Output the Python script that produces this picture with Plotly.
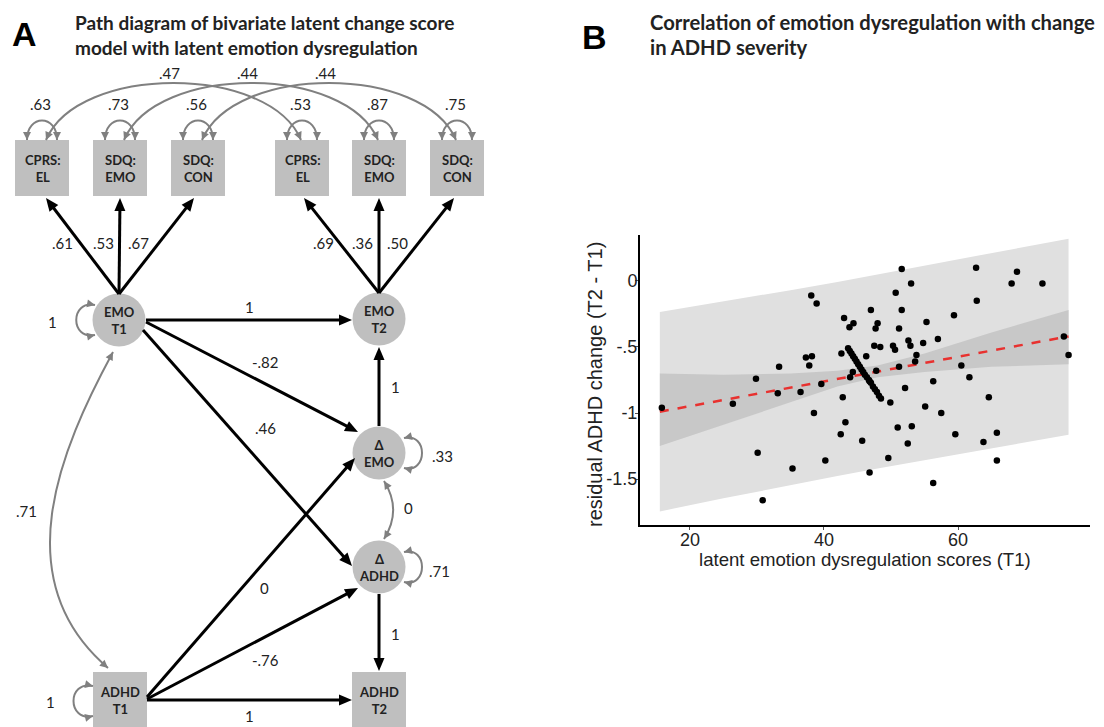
import plotly.graph_objects as go

# ---------------- Panel B data ----------------
emo_x = [15.8, 26.4, 29.85, 30.1, 30.85, 33.3, 33.1, 35.3, 36.5, 37.3, 38.2, 37.8, 38.1, 38.9,
         38.5, 39.6, 40.2, 42.6, 43.0, 43.8, 44.4, 42.8, 43.2, 42.5, 45.7, 43.9, 44.3, 46.3,
         46.8, 46.8, 47.0,
         51.6, 53.0, 50.7, 51.6, 48.0, 47.7, 51.2, 55.3, 59.4, 62.7, 62.8, 68.8, 68.0, 72.6,
         75.8, 76.5, 52.6, 52.9, 47.5, 48.4, 50.3, 50.6, 54.8, 57.0, 53.8, 53.6, 51.2, 47.8,
         60.5, 61.7, 56.3, 52.1, 49.9, 55.1, 57.5, 64.6, 51.0, 53.1, 52.5, 59.6, 63.8, 65.8,
         49.6, 65.8, 56.3]
adhd_y = [-0.96, -0.93, -0.74, -1.30, -1.66, -0.65, -0.85, -1.42, -0.84, -0.58, -0.57, -0.64, -0.11, -0.17,
          -1.00, -0.78, -1.36, -0.55, -0.28, -0.35, -0.32, -0.88, -1.07, -1.16, -1.21, -0.73, -0.69, -0.57,
          -0.76, -1.45, -0.22,
          0.09, -0.02, -0.09, -0.22, -0.32, -0.36, -0.36, -0.31, -0.26, 0.10, -0.15, 0.07, -0.02, -0.02,
          -0.42, -0.56, -0.45, -0.49, -0.49, -0.50, -0.49, -0.52, -0.47, -0.44, -0.56, -0.61, -0.65, -0.68,
          -0.64, -0.73, -0.76, -0.81, -0.92, -0.95, -1.00, -0.88, -1.11, -1.10, -1.23, -1.16, -1.22, -1.15,
          -1.34, -1.36, -1.53]
# tight cluster of observations forming a short diagonal streak
dense_x = [43.6, 43.85, 44.1, 44.35, 44.6, 44.85, 45.1, 45.35, 45.6, 45.85, 46.1, 46.4, 46.7, 47.0,
           47.3, 47.6, 47.9, 48.2, 48.5]
dense_y = [-0.51, -0.53, -0.55, -0.57, -0.59, -0.61, -0.63, -0.65, -0.67, -0.69, -0.71, -0.73, -0.75,
           -0.77, -0.80, -0.82, -0.84, -0.87, -0.89]

fit_x = [15.5, 76.5]
fit_y = [-0.99, -0.42]
band_x = [15.5, 25, 35, 42, 48, 55, 65, 76.5]
ci_hi = [-0.70, -0.71, -0.70, -0.68, -0.64, -0.55, -0.39, -0.22]
ci_lo = [-1.25, -1.09, -0.92, -0.80, -0.73, -0.69, -0.65, -0.63]
pi_hi = [-0.235, -0.156, -0.070, -0.007, 0.049, 0.115, 0.213, 0.320]
pi_lo = [-1.745, -1.646, -1.546, -1.477, -1.421, -1.357, -1.267, -1.165]

x_ticks = [20, 40, 60]
y_ticks = [0, -0.5, -1, -1.5]
y_ticktext = ["0", "-.5", "-1", "-1.5"]

# ---------------- Panel A content ----------------
indicator_labels = ["CPRS:<br>EL", "SDQ:<br>EMO", "SDQ:<br>CON"]
loadings_t1 = [".61", ".53", ".67"]
loadings_t2 = [".69", ".36", ".50"]
resid_t1 = [".63", ".73", ".56"]
resid_t2 = [".53", ".87", ".75"]
resid_cov = [".47", ".44", ".44"]
path_coef = {"emo_auto": "1", "emo_prop": "-.82", "emo_to_dadhd": ".46", "dEMO_to_emo2": "1",
             "adhd_to_demo": "0", "adhd_prop": "-.76", "adhd_auto": "1", "dADHD_to_adhd2": "1",
             "cov_t1": ".71", "cov_delta": "0", "var_demo": ".33", "var_dadhd": ".71",
             "var_emo1": "1", "var_adhd1": "1"}

# page coordinates (the page body adds an 8px offset)
W, H = 1104, 727
OFF = 8
FW, FH = W - OFF, H - OFF

BLACK = "#000000"
GRAY = "#808080"
NODE = "#bfbfbf"
TXT = "#222222"
LABF = "Lato, 'Open Sans', sans-serif"

shapes = []
annotations = []


def S(d):
    d.update(xref="x2", yref="y2")
    shapes.append(d)


def head(tx, ty, ux, uy, L, Wd, color):
    bx, by = tx - ux * L, ty - uy * L
    nx, ny = -uy, ux
    S(dict(type="path",
           path=f"M {tx:.2f},{ty:.2f} L {bx + nx * Wd:.2f},{by + ny * Wd:.2f} L {bx - nx * Wd:.2f},{by - ny * Wd:.2f} Z",
           fillcolor=color, line=dict(width=0), layer="above"))


def arrow(x0, y0, x1, y1, color=BLACK, width=3, L=13, Wd=5.5):
    dx, dy = x1 - x0, y1 - y0
    d = (dx * dx + dy * dy) ** 0.5
    ux, uy = dx / d, dy / d
    S(dict(type="line", x0=x0, y0=y0, x1=x1 - ux * (L - 2), y1=y1 - uy * (L - 2),
           line=dict(color=color, width=width), layer="above"))
    head(x1, y1, ux, uy, L, Wd, color)


def unit(ax, ay, bx, by):
    dx, dy = bx - ax, by - ay
    d = (dx * dx + dy * dy) ** 0.5
    return dx / d, dy / d


def curve(p0, c1, c2, p3, color=GRAY, width=2, L=8, Wd=4, both=True):
    S(dict(type="path",
           path=f"M {p0[0]},{p0[1]} C {c1[0]},{c1[1]} {c2[0]},{c2[1]} {p3[0]},{p3[1]}",
           line=dict(color=color, width=width), layer="above"))
    ux, uy = unit(c2[0], c2[1], p3[0], p3[1])
    head(p3[0], p3[1], ux, uy, L, Wd, color)
    if both:
        ux, uy = unit(c1[0], c1[1], p0[0], p0[1])
        head(p0[0], p0[1], ux, uy, L, Wd, color)


def text(x, y, s, size=15, bold=False, color=TXT, family=LABF, xanchor="center"):
    annotations.append(dict(x=x, y=y, xref="x2", yref="y2", text=(f"<b>{s}</b>" if bold else s),
                            showarrow=False, xanchor=xanchor, yanchor="middle",
                            font=dict(family=family, size=size, color=color)))


def box(cx, cy, label, w=54, h=56):
    S(dict(type="rect", x0=cx - w / 2, x1=cx + w / 2, y0=cy - h / 2, y1=cy + h / 2,
           fillcolor=NODE, line=dict(width=0), layer="below"))
    text(cx, cy, label, size=13, bold=True)


def circle(cx, cy, label, r=26.5):
    S(dict(type="circle", x0=cx - r, x1=cx + r, y0=cy - r, y1=cy + r,
           fillcolor=NODE, line=dict(width=0), layer="below"))
    text(cx, cy, label, size=13, bold=True)


# indicator boxes
ind_x_t1 = [42, 120, 198]
ind_x_t2 = [302, 379, 457]
IND_Y = 168
for i in range(3):
    box(ind_x_t1[i], IND_Y, indicator_labels[i])
    box(ind_x_t2[i], IND_Y, indicator_labels[i])

# residual variance loops on indicators
for xs, labs in ((ind_x_t1, resid_t1), (ind_x_t2, resid_t2)):
    for c, lab in zip(xs, labs):
        curve((c - 15, 140), (c - 15, 114), (c + 15, 114), (c + 15, 140))
        text(c - 2, 104, lab)

# residual covariances across time
for i in range(3):
    a = ind_x_t1[i] + 4
    b = ind_x_t2[i] - 1
    curve((a, 140), (a + 32, 64), (b - 32, 64), (b, 140))
    text((a + b) / 2 - 4, 73, resid_cov[i])

# latent nodes
EMO1 = (119, 320)
EMO2 = (379, 319)
DEMO = (379, 453)
DADHD = (379, 567)
ADHD1 = (120, 700)
ADHD2 = (379, 700)
circle(*EMO1, "EMO<br>T1")
circle(*EMO2, "EMO<br>T2")
circle(*DEMO, "Δ<br>EMO")
circle(*DADHD, "Δ<br>ADHD")
box(*ADHD1, "ADHD<br>T1")
box(*ADHD2, "ADHD<br>T2")

# loadings
tips1 = [(46, 198), (120, 198), (194, 198)]
tips2 = [(304, 198), (379, 198), (454, 198)]
lab1 = [(62, 243), (103, 243), (138, 243)]
lab2 = [(323, 243), (362, 243), (397, 243)]
for i in range(3):
    arrow(119, 294, *tips1[i])
    arrow(379, 293, *tips2[i])
    text(*lab1[i], loadings_t1[i])
    text(*lab2[i], loadings_t2[i])

# structural paths
arrow(146, 320, 352, 320); text(249, 307, path_coef["emo_auto"])
arrow(146, 322, 358, 432); text(265, 362, path_coef["emo_prop"])
arrow(143, 330, 352, 566); text(265, 428, path_coef["emo_to_dadhd"])
arrow(379, 426, 379, 347); text(395, 387, path_coef["dEMO_to_emo2"])
arrow(147, 697, 355, 458); text(264, 588, path_coef["adhd_to_demo"])
arrow(147, 699, 358, 588); text(265, 660, path_coef["adhd_prop"])
arrow(147, 700, 352, 700); text(249, 716, path_coef["adhd_auto"])
arrow(379, 594, 379, 671); text(395, 634, path_coef["dADHD_to_adhd2"])

# covariances / variances (gray)
curve((113, 352), (60, 450), (5, 580), (108, 668)); text(26, 511, path_coef["cov_t1"])
curve((384, 481), (396, 500), (396, 520), (384, 539)); text(408, 508, path_coef["cov_delta"])
curve((404, 438), (428, 432), (428, 474), (404, 468)); text(442, 456, path_coef["var_demo"])
curve((404, 552), (428, 546), (428, 588), (404, 582)); text(439, 571, path_coef["var_dadhd"])
curve((95, 305), (70, 300), (70, 340), (95, 335)); text(52, 322, path_coef["var_emo1"])
curve((93, 686), (67, 680), (67, 722), (93, 716)); text(50, 702, path_coef["var_adhd1"])

# panel titles
TF = "Lato, 'Open Sans', sans-serif"
HF = "'Liberation Sans', Arial, sans-serif"
text(10, 34, "A", size=34, bold=True, color="#000", family=HF, xanchor="left")
text(580, 37, "B", size=34, bold=True, color="#000", family=HF, xanchor="left")
text(73, 22, "Path diagram of bivariate latent change score", size=19, bold=True, family=TF, xanchor="left")
text(73, 47, "model with latent emotion dysregulation", size=19, bold=True, family=TF, xanchor="left")
text(648, 22, "Correlation of emotion dysregulation with change", size=20.2, bold=True, family=TF, xanchor="left")
text(648, 47, "in ADHD severity", size=20.2, bold=True, family=TF, xanchor="left")

# axis titles for panel B
AF = "'Liberation Sans', Arial, sans-serif"
text(865, 559, "latent emotion dysregulation scores (T1)", size=18.6, family=AF, color="#222")
annotations.append(dict(x=595, y=385, xref="x2", yref="y2", text="residual ADHD change (T2 - T1)",
                        showarrow=False, textangle=-90, xanchor="center", yanchor="middle",
                        font=dict(family=AF, size=20, color="#222")))

fig = go.Figure()
fig.add_trace(go.Scatter(x=band_x + band_x[::-1], y=pi_hi + pi_lo[::-1], fill="toself",
                         fillcolor="#e0e0e0", line=dict(width=0), mode="lines",
                         hoverinfo="skip", showlegend=False))
fig.add_trace(go.Scatter(x=band_x + band_x[::-1], y=ci_hi + ci_lo[::-1], fill="toself",
                         fillcolor="#c8c8c8", line=dict(width=0), mode="lines",
                         hoverinfo="skip", showlegend=False))
fig.add_trace(go.Scatter(x=fit_x, y=fit_y, mode="lines",
                         line=dict(color="#e8312f", width=2.5, dash="dash"), showlegend=False))
fig.add_trace(go.Scatter(x=emo_x + dense_x, y=adhd_y + dense_y, mode="markers",
                         marker=dict(color="black", size=6.5), showlegend=False))
fig.add_trace(go.Scatter(x=[], y=[], xaxis="x2", yaxis="y2", showlegend=False))


def dx(px):
    return (px - OFF) / FW


def dy(py):
    return 1 - (py - OFF) / FH


fig.update_layout(
    width=FW, height=FH,
    margin=dict(l=0, r=0, t=0, b=0),
    paper_bgcolor="white", plot_bgcolor="rgba(0,0,0,0)",
    showlegend=False,
    xaxis=dict(domain=[dx(640), dx(1090)], range=[12.54, 79.7], tickvals=x_ticks,
               showline=True, linecolor="black", linewidth=2, ticks="outside", ticklen=3,
               tickcolor="#555", showgrid=False, zeroline=False, ticklabelstandoff=-6,
               tickfont=dict(family=AF, size=18, color="#222")),
    yaxis=dict(domain=[dy(525), dy(235)], range=[-1.848, 0.348], tickvals=y_ticks,
               ticktext=y_ticktext, showline=True, linecolor="black", linewidth=2,
               ticks="outside", ticklen=3, tickcolor="#555", showgrid=False, zeroline=False,
               ticklabelstandoff=-6,
               tickfont=dict(family=AF, size=18, color="#222")),
    xaxis2=dict(domain=[0, 1], range=[OFF, W], visible=False, anchor="y2", fixedrange=True),
    yaxis2=dict(domain=[0, 1], range=[H, OFF], visible=False, anchor="x2", fixedrange=True),
    shapes=shapes,
    annotations=annotations,
)

fig.write_html("out.html")
